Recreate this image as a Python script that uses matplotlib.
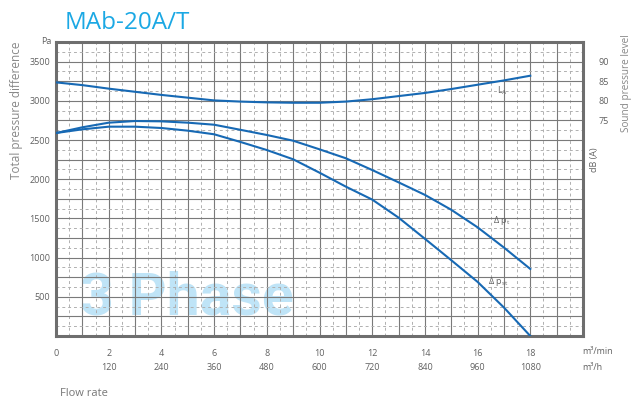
import matplotlib.pyplot as plt
from matplotlib.ticker import MultipleLocator

# flow rate in m3/min
flow = [0, 1, 2, 3, 4, 5, 6, 7, 8, 9, 10, 11, 12, 13, 14, 15, 16, 17, 18]
# total pressure difference (Pa)
dp_total = [2589, 2662, 2721, 2742, 2738, 2721, 2695, 2630, 2564, 2491,
            2381, 2267, 2117, 1960, 1800, 1610, 1386, 1128, 855]
# static pressure difference (Pa)
dp_static = [2589, 2636, 2670, 2670, 2653, 2619, 2573, 2475, 2372, 2254,
             2083, 1905, 1740, 1510, 1240, 967, 690, 363, 0]
# sound pressure level dB(A)
sound_level = [84.7, 84.0, 83.1, 82.3, 81.5, 80.8, 80.1, 79.8, 79.6, 79.5,
               79.5, 79.8, 80.4, 81.2, 82.0, 83.0, 84.1, 85.2, 86.4]

x_ticks_min = [0, 2, 4, 6, 8, 10, 12, 14, 16, 18]
x_ticks_h = ['', '120', '240', '360', '480', '600', '720', '840', '960', '1080']
y_ticks = [500, 1000, 1500, 2000, 2500, 3000, 3500]
db_ticks = [75, 80, 85, 90]

plt.rcParams['font.family'] = ['Open Sans', 'DejaVu Sans']
gray = '#606060'
blue = '#1769b4'

fig = plt.figure(figsize=(6.33, 4.04), dpi=100)
ax = fig.add_axes([56/633, 1-336/404, 527/633, 294/404])
ax.set_xlim(0, 20)
ax.set_ylim(0, 3750)

# grid: solid every 1 / 250, dashed halfway
ax.xaxis.set_minor_locator(MultipleLocator(0.5))
ax.yaxis.set_minor_locator(MultipleLocator(125))
ax.grid(which='major', color='#7a7a7a', lw=0.8, ls='-')
ax.grid(which='minor', color='#b0b0b0', lw=0.7, ls=(0, (3, 3)))

xlabels = []
for v in range(0, 21):
    if v in x_ticks_min:
        i = x_ticks_min.index(v)
        xlabels.append(f'{v}\n{x_ticks_h[i]}' if x_ticks_h[i] else f'{v}')
    else:
        xlabels.append('')
ax.set_xticks(range(0, 21))
ax.set_xticklabels(xlabels, linespacing=1.75)
ylabels = [str(v) if v in y_ticks else '' for v in range(0, 3751, 250)]
ax.set_yticks(range(0, 3751, 250))
ax.set_yticklabels(ylabels)
ax.tick_params(which='both', length=0, labelsize=6.5, labelcolor=gray)
ax.tick_params(axis='x', pad=9)
ax.tick_params(axis='y', pad=4)

for s in ax.spines.values():
    s.set_color('#6e6e6e')
    s.set_linewidth(2.2)

ax.text(0.91, 268, '3 Phase', fontsize=42.5, fontweight='bold', family='Roboto',
        color='#bfe4f7', ha='left', va='baseline', zorder=1)

ax.plot(flow, dp_total, color=blue, lw=1.5, zorder=3)
ax.plot(flow, dp_static, color=blue, lw=1.5, zorder=3)

ax2 = ax.twinx()
ax2.set_ylim(20, 95)
ax2.set_yticks(db_ticks)
ax2.tick_params(length=0, labelsize=6.5, labelcolor=gray, pad=11)
for s in ax2.spines.values():
    s.set_visible(False)
ax2.plot(flow, sound_level, color=blue, lw=1.5)

ax2.text(16.75, 82.5, '$\\mathregular{L_A}$', fontsize=6.5, color=gray, va='center')
ax.text(16.6, 1467, 'Δ $\\mathregular{p_t}$', fontsize=6.5, color=gray, va='center')
ax.text(16.4, 689, 'Δ $\\mathregular{p_{st}}$', fontsize=6.5, color=gray, va='center')

fig.text(65/633, 1-29/404, 'MAb-20A/T', fontsize=17.5, color='#1ba8e4', va='baseline')
fig.text(17/633, 1-110/404, 'Total pressure difference', rotation=90, fontsize=8.5,
         color='#888888', ha='center', va='center')
fig.text(52/633, 1-42/404, 'Pa', fontsize=6.5, color=gray, ha='right', va='center')
fig.text(594/633, 1-160/404, 'dB (A)', rotation=90, fontsize=6.5, color=gray,
         ha='center', va='center')
fig.text(626/633, 1-83/404, 'Sound pressure level', rotation=90, fontsize=7.2,
         color='#888888', ha='center', va='center')
fig.text(582/633, 1-351/404, 'm³/min', fontsize=6.5, color=gray, va='center')
fig.text(582/633, 1-367/404, 'm³/h', fontsize=6.5, color=gray, va='center')
fig.text(60/633, 1-394/404, 'Flow rate', fontsize=8, color='#777777', va='center')

fig.savefig('out.png', dpi=100)
